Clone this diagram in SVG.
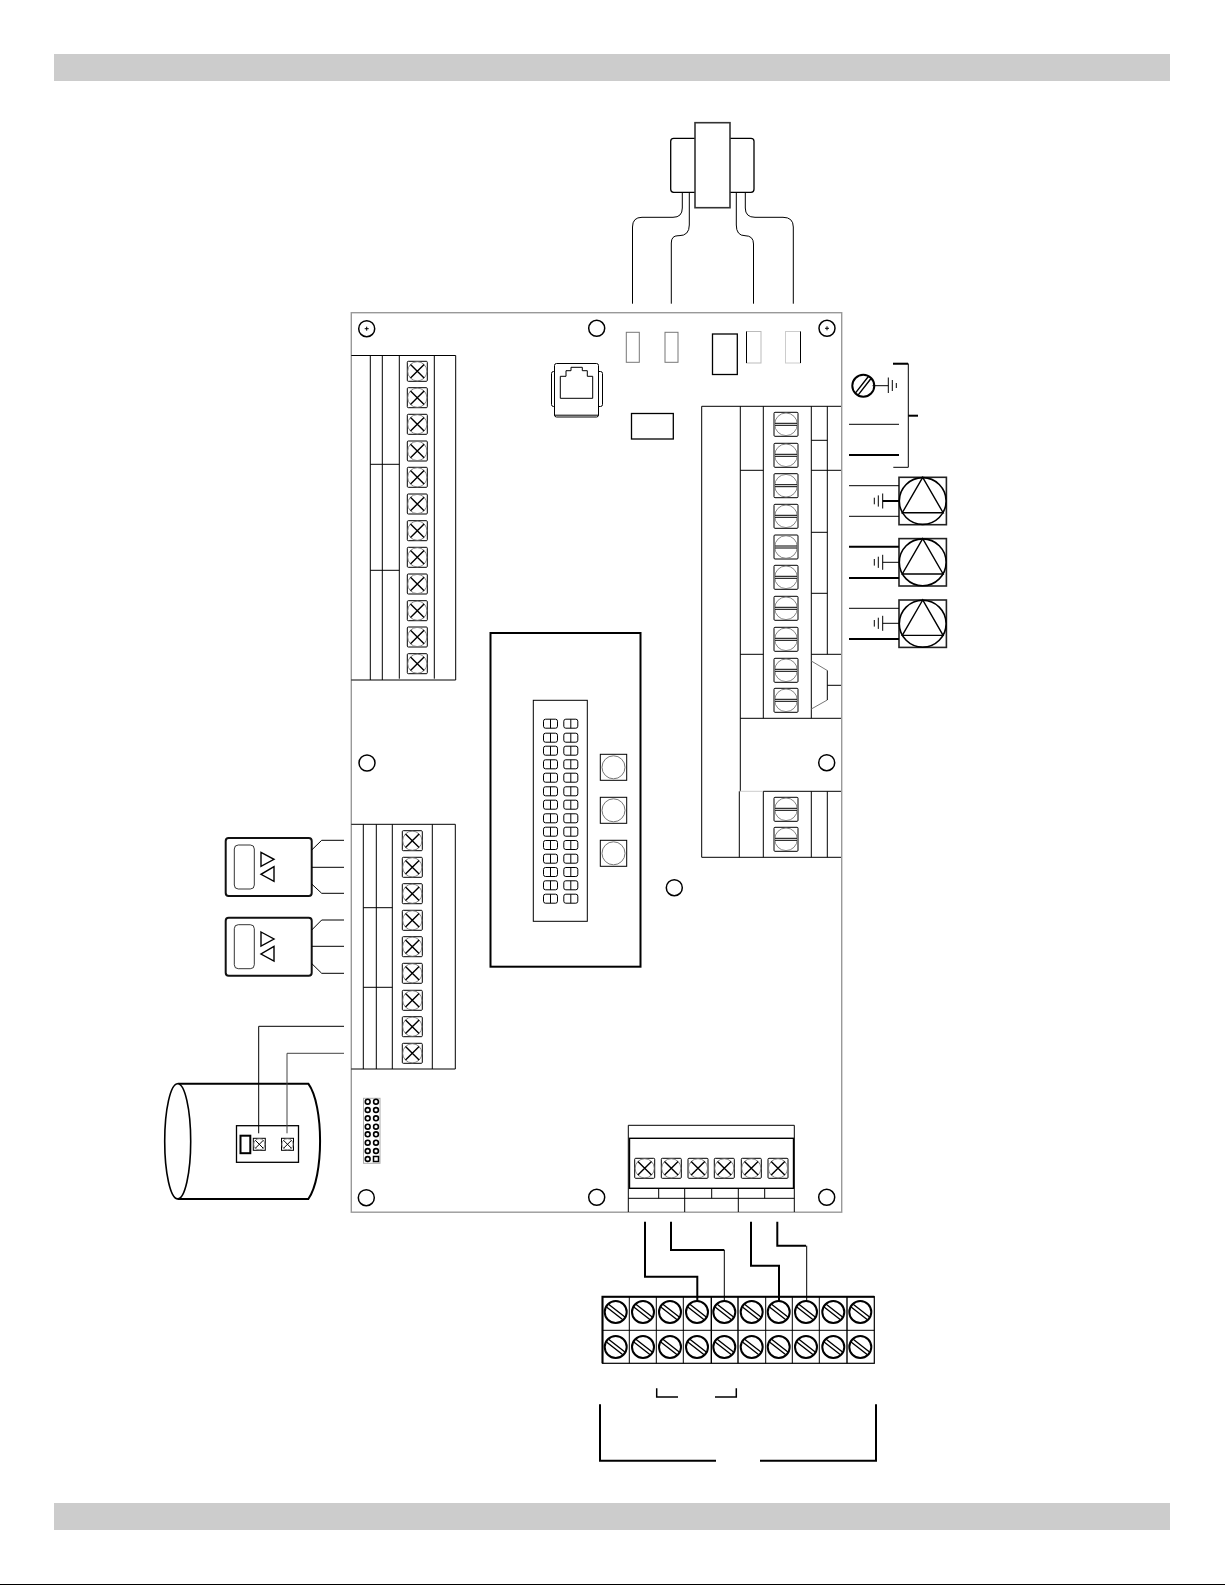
<svg xmlns="http://www.w3.org/2000/svg" width="1225" height="1585" viewBox="0 0 1225 1585">
<style>
.l{fill:none;stroke:#000;stroke-width:1}
.m{fill:none;stroke:#000;stroke-width:1.4}
.t{fill:none;stroke:#000;stroke-width:2}
.g{fill:none;stroke:#777;stroke-width:1}
.h{fill:none;stroke:#777;stroke-width:.9}
.lg{fill:none;stroke:#ccc;stroke-width:1}
.bar{fill:#ccc}
</style>
<defs>
<g id="xs"><rect x="-10" y="-10" width="20" height="20" rx="1" class="l"/><circle r="9.6" class="h"/><path d="M-6.8-6.8L6.8 6.8M6.8-6.8L-6.8 6.8" class="m"/></g>
<g id="xs2"><rect x="-6" y="-6" width="12" height="12" class="l"/><circle r="5.6" class="h"/><path d="M-4-4L4 4M4-4L-4 4" class="l"/></g>
<g id="fs"><rect x="-12" y="-12" width="24" height="24" rx="1" class="l"/><circle r="11.3" class="h"/><path d="M-11-1H11M-11 1H11" class="l"/></g>
<g id="ss"><circle r="11" class="t"/><path d="M-10.4-1.7H10.4M-10.4 1.7H10.4" class="m" transform="rotate(38)"/></g>
<g id="pin"><rect x="-7" y="-4.5" width="14" height="9" rx="2" class="l"/><path d="M0-4.5V4.5" class="l"/></g>
<g id="hole"><circle r="8" fill="#fff" stroke="#000" stroke-width="1.5"/></g>
<g id="btn"><rect x="-13.2" y="-13" width="26.4" height="26" class="l"/><circle r="11.5" class="g"/></g>
<g id="jp"><circle r="2.4" fill="#fff" stroke="#000" stroke-width="1.6"/></g>
<g id="gnd"><path d="M0-7.5V7.5M-4.4-5.6V5.6M-8.4-3.3V3.3" class="l"/></g>
<g id="pump"><rect x="-23.7" y="-23.7" width="47.4" height="47.4" fill="#fff" stroke="#222" stroke-width="1.6"/><circle r="23.4" fill="#fff" stroke="#000" stroke-width="1.6"/><path d="M0-23.7L-20.4 11.7H20.4Z" class="m"/></g>
<g id="sensor"><rect x="225.7" y="0" width="86" height="58" rx="3" fill="#fff" stroke="#111" stroke-width="2"/><rect x="234.3" y="7" width="20" height="44" rx="4" fill="#fff" stroke="#000" stroke-width=".8"/><path d="M261 14.3L274 21.3L261 28.3ZM274 28.7L261 36.3L274 43.3Z" class="m"/></g>
</defs>

<rect id="header-bar" class="bar" x="54" y="54" width="1116" height="27"/>
<rect id="footer-bar" class="bar" x="54" y="1503" width="1116" height="27"/>
<rect id="page-rule" x="0" y="1584" width="1225" height="1" fill="#000"/>

<g id="board">
<rect x="351.3" y="312.7" width="490.4" height="899.5" fill="#fff" stroke="#999" stroke-width="1.4"/>
<use href="#hole" x="366.7" y="328.7"/><path d="M364.7 328.7h4M366.7 326.7v4" class="l"/>
<use href="#hole" x="596.7" y="328.3"/>
<use href="#hole" x="827" y="328.3"/><path d="M825 328.3h4M827 326.3v4" class="l"/>
<use href="#hole" x="367" y="763"/>
<use href="#hole" x="826.7" y="762.7"/>
<use href="#hole" x="674.3" y="887.7"/>
<use href="#hole" x="366.3" y="1197.7"/>
<use href="#hole" x="596.7" y="1197.3"/>
<use href="#hole" x="826.7" y="1197.3"/>
</g>

<g id="transformer">
<rect x="670.7" y="138.3" width="83.3" height="54" rx="3" fill="#fff" stroke="#000" stroke-width="1.3"/>
<rect x="695" y="122.7" width="35" height="85" fill="#fff" stroke="#333" stroke-width="1.6"/>
</g>

<g id="fuses">
<rect x="626.3" y="332.3" width="13" height="30" fill="#fff" stroke="#777"/>
<rect x="665" y="332.3" width="13" height="30" fill="#fff" stroke="#777"/>
<rect x="712.5" y="334" width="24.8" height="40.5" fill="#fff" stroke="#000" stroke-width="1.3"/>
<rect x="746.5" y="331.5" width="14.5" height="31.5" fill="#fff" stroke="#bbb"/>
<path d="M746.5 331.5V363" class="l"/>
<rect x="785.5" y="331.5" width="15" height="31.5" fill="#fff" stroke="#ccc"/>
<path d="M800.5 331.5V363" class="l"/>
<rect x="631.5" y="413.5" width="41.8" height="25.5" fill="#fff" stroke="#000" stroke-width="1.3"/>
</g>

<g id="rj-jack">
<rect x="551.5" y="371.5" width="51" height="35" rx="2" stroke="#000" fill="#fff"/>
<rect x="554.5" y="363.5" width="44" height="53.5" rx="2" stroke="#000" fill="#fff"/>
<path d="M554.5 415.2H598.5" class="l"/>
<path d="M560.3 398.3V376.3H566V370.7H571V367.3H582.3V370.7H587.3V376.3H592.7V398.3Z" class="l"/>
</g>

<g id="terminal-left-top">
<path d="M351.3 355.5H455.7V680H351.3M370.3 355.5V680M382.3 355.5V680M399.3 355.5V678.7M434.3 355.5V678.7M370.3 464.3H399.3M370.3 570.3H399.3" class="l"/>
<use href="#xs" x="417.3" y="371.3"/><use href="#xs" x="417.3" y="397.7"/><use href="#xs" x="417.3" y="424.3"/><use href="#xs" x="417.3" y="451"/><use href="#xs" x="417.3" y="477.3"/><use href="#xs" x="417.3" y="504"/><use href="#xs" x="417.3" y="530.7"/><use href="#xs" x="417.3" y="557.3"/><use href="#xs" x="417.3" y="584"/><use href="#xs" x="417.3" y="610.7"/><use href="#xs" x="417.3" y="637"/><use href="#xs" x="417.3" y="663.7"/>
</g>

<g id="terminal-left-bottom">
<path d="M351.3 824.3H455.3V1069H351.3M363.3 824.3V1069M376.3 824.3V1069M392.3 824.3V1069M432.3 824.3V1069M363.3 907.7H392.3M363.3 987.3H392.3" class="l"/>
<use href="#xs" x="412.3" y="840.7"/><use href="#xs" x="412.3" y="867.3"/><use href="#xs" x="412.3" y="893.7"/><use href="#xs" x="412.3" y="920.3"/><use href="#xs" x="412.3" y="946.7"/><use href="#xs" x="412.3" y="973.3"/><use href="#xs" x="412.3" y="1000.3"/><use href="#xs" x="412.3" y="1026.7"/><use href="#xs" x="412.3" y="1053.3"/>
</g>

<g id="terminal-right">
<path d="M841 406.3H701.7V857.3H841M740.3 406.3V791.3M739.3 791.3V857.3M763.3 406.3V718.3M763.3 791.3V857.3M811.3 406.3V718.3M811.3 791.3V857.3M827.3 406.3V654.3M827.3 791.3V857.3M740.3 470.3H763.3M811.3 470.3H841M811.3 440.3H827.3M811.3 532.3H827.3M811.3 593.3H827.3M740.3 654.3H763.3M811.3 654.3H841M740.3 718.3H841M763.3 791.3H841M827.3 685.3H841" class="l"/>
<path d="M740 791.3H763" class="lg"/>
<path d="M811.3 661L827.3 670.5M827.3 700L811.3 709" class="g"/>
<path d="M827.3 670.5V700" class="l"/>
<use href="#fs" x="786" y="424.3"/><use href="#fs" x="786" y="455.3"/><use href="#fs" x="786" y="485.7"/><use href="#fs" x="786" y="516.3"/><use href="#fs" x="786" y="547"/><use href="#fs" x="786" y="577.3"/><use href="#fs" x="786" y="608.3"/><use href="#fs" x="786" y="639.3"/><use href="#fs" x="786" y="670.3"/><use href="#fs" x="786" y="700.3"/><use href="#fs" x="786" y="809.3"/><use href="#fs" x="786" y="839.3"/>
</g>

<g id="controller-module">
<rect x="490.5" y="633" width="150" height="333.7" class="t"/>
<rect x="533.3" y="700.3" width="54" height="221" class="l"/>
<use href="#pin" x="550.5" y="723.7"/><use href="#pin" x="570.8" y="723.7"/>
<use href="#pin" x="550.5" y="737.7"/><use href="#pin" x="570.8" y="737.7"/>
<use href="#pin" x="550.5" y="750.7"/><use href="#pin" x="570.8" y="750.7"/>
<use href="#pin" x="550.5" y="764.3"/><use href="#pin" x="570.8" y="764.3"/>
<use href="#pin" x="550.5" y="777.7"/><use href="#pin" x="570.8" y="777.7"/>
<use href="#pin" x="550.5" y="791.3"/><use href="#pin" x="570.8" y="791.3"/>
<use href="#pin" x="550.5" y="804.7"/><use href="#pin" x="570.8" y="804.7"/>
<use href="#pin" x="550.5" y="818.3"/><use href="#pin" x="570.8" y="818.3"/>
<use href="#pin" x="550.5" y="831.7"/><use href="#pin" x="570.8" y="831.7"/>
<use href="#pin" x="550.5" y="845"/><use href="#pin" x="570.8" y="845"/>
<use href="#pin" x="550.5" y="858.7"/><use href="#pin" x="570.8" y="858.7"/>
<use href="#pin" x="550.5" y="872"/><use href="#pin" x="570.8" y="872"/>
<use href="#pin" x="550.5" y="885.3"/><use href="#pin" x="570.8" y="885.3"/>
<use href="#pin" x="550.5" y="898.7"/><use href="#pin" x="570.8" y="898.7"/>
<use href="#btn" x="613.5" y="767.3"/><use href="#btn" x="613.5" y="810.3"/><use href="#btn" x="613.5" y="853.3"/>
</g>

<g id="header-j">
<rect x="363.5" y="1098.3" width="16.5" height="65" fill="#fff" stroke="#aaa"/>
<use href="#jp" x="367.7" y="1101.7"/><use href="#jp" x="376" y="1101.7"/>
<use href="#jp" x="367.7" y="1110"/><use href="#jp" x="376" y="1110"/>
<use href="#jp" x="367.7" y="1118.3"/><use href="#jp" x="376" y="1118.3"/>
<use href="#jp" x="367.7" y="1126.7"/><use href="#jp" x="376" y="1126.7"/>
<use href="#jp" x="367.7" y="1134.3"/><use href="#jp" x="376" y="1134.3"/>
<use href="#jp" x="367.7" y="1142.7"/><use href="#jp" x="376" y="1142.7"/>
<use href="#jp" x="367.7" y="1151"/><use href="#jp" x="376" y="1151"/>
<use href="#jp" x="367.7" y="1159"/>
<rect x="373.5" y="1156.5" width="5" height="5" fill="#fff" stroke="#000" stroke-width="1.5"/>
</g>

<g id="terminal-bottom">
<path d="M628.3 1212V1125.3H794.3V1212M628.3 1198.3H794.3M658.7 1188.3V1198.3M684.7 1188.3V1212M711.7 1188.3V1198.3M738.3 1188.3V1212M764.7 1188.3V1198.3" class="l"/>
<rect x="629.5" y="1138.3" width="164" height="50" class="m"/>
<use href="#xs" x="644.7" y="1168.3"/><use href="#xs" x="671.3" y="1168.3"/><use href="#xs" x="698" y="1168.3"/><use href="#xs" x="724.3" y="1168.3"/><use href="#xs" x="751.3" y="1168.3"/><use href="#xs" x="778" y="1168.3"/>
</g>

<g id="sensor-1" transform="translate(0 838)"><use href="#sensor"/></g>
<g id="sensor-2" transform="translate(0 917.7)"><use href="#sensor"/></g>

<g id="tank">
<path d="M177.7 1083.7H308.3C324 1105 324 1177 308.3 1199H177.7" fill="#fff" stroke="#000" stroke-width="2"/>
<ellipse cx="177.7" cy="1141.3" rx="13" ry="57.6" fill="#fff" stroke="#000" stroke-width="1.6"/>
<rect x="236.5" y="1125.7" width="62" height="36.6" fill="#fff" stroke="#000" stroke-width="1.3"/>
<rect x="240.5" y="1135.7" width="9.8" height="17.5" fill="#fff" stroke="#000" stroke-width="2"/>
<use href="#xs2" x="259.3" y="1144.3"/><use href="#xs2" x="287.5" y="1144.3"/>
</g>

<g id="pump-1"><use href="#pump" x="922.7" y="501"/></g>
<g id="pump-2"><use href="#pump" x="922.7" y="562.3"/></g>
<g id="pump-3"><use href="#pump" x="922.7" y="623.7"/></g>

<g id="ground-screw">
<use href="#ss" x="863.3" y="385.7" transform="rotate(90 863.3 385.7)"/>
<path d="M872.5 385.7H888.3" class="l"/>
<path d="M888.3 377.5V393M892.3 380V391M896.3 383V388" class="l"/>
</g>

<g id="terminal-block">
<rect x="602.5" y="1296.7" width="271.8" height="66.6" fill="#fff" stroke="#000" stroke-width="1.2"/>
<path d="M602.5 1363.3V1296.7H874.3" class="t"/>
<path d="M602.5 1330.3H874.3M629.3 1296.7V1363.3M656.3 1296.7V1363.3M683.3 1296.7V1363.3M765.7 1296.7V1363.3M792.3 1296.7V1363.3M819.3 1296.7V1363.3" class="l"/>
<path d="M711.3 1296.7V1363.3M738 1296.7V1363.3M847 1296.7V1363.3" class="m"/>
<use href="#ss" x="615.7" y="1312"/><use href="#ss" x="643" y="1312"/><use href="#ss" x="670" y="1312"/><use href="#ss" x="697" y="1312"/><use href="#ss" x="724.3" y="1312"/><use href="#ss" x="751.7" y="1312"/><use href="#ss" x="778.7" y="1312"/><use href="#ss" x="806" y="1312"/><use href="#ss" x="833.3" y="1312"/><use href="#ss" x="860.3" y="1312"/>
<use href="#ss" x="615.7" y="1347"/><use href="#ss" x="643" y="1347"/><use href="#ss" x="670" y="1347"/><use href="#ss" x="697" y="1347"/><use href="#ss" x="724.3" y="1347"/><use href="#ss" x="751.7" y="1347"/><use href="#ss" x="778.7" y="1347"/><use href="#ss" x="806" y="1347"/><use href="#ss" x="833.3" y="1347"/><use href="#ss" x="860.3" y="1347"/>
</g>

<g id="connectors">
<path d="M682.3 192.3V208Q682.3 217.3 673 217.3H642Q632.5 217.3 632.5 227V303.7" class="l"/>
<path d="M689.3 192.3V225Q689.3 235.7 679 235.7H678Q671.3 235.7 671.3 243V303.7" class="l"/>
<path d="M736.3 192.3V225Q736.3 235.7 745 235.7Q753.5 235.7 753.5 244V303.7" class="l"/>
<path d="M745.3 192.3V208Q745.3 217.3 755 217.3H783Q793.3 217.3 793.3 227V303.7" class="l"/>
<path d="M893 363.7H908.3V467.3H893.3" class="l"/>
<path d="M893 363.7H908" class="t"/>
<path d="M908.3 415.7H918" class="t"/>
<path d="M849 424.3H899" class="l"/>
<path d="M849 455H899" class="t"/>
<path d="M849 485.7H899M849 516.3H899" class="l"/>
<path d="M849 546.7H899M849 578H899" class="t"/>
<path d="M849 608.3H899" class="l"/>
<path d="M849 639H899" class="t"/>
<path d="M882.7 501H899" class="t"/>
<use href="#gnd" x="882.7" y="501"/>
<path d="M882.7 562.3H899" class="l"/>
<use href="#gnd" x="882.7" y="562.3"/>
<path d="M882.7 623.3H899" class="l"/>
<use href="#gnd" x="882.7" y="623.3"/>
<path d="M311.7 850L321.7 840.3H344M311.7 867.3H344M311.7 884L321.7 893.3H344" class="l"/>
<path d="M311.7 930L321.7 920H344M311.7 946.3H344M311.7 963.5L321.7 973.3H344" class="l"/>
<path d="M344 1026.3H258.7V1133.3" class="l"/>
<path d="M344 1053.3H287V1133.3" fill="none" stroke="#444"/>
<path d="M645 1221.7V1276.7H697.3V1302" class="t"/>
<path d="M671 1221.7V1250H724.3" class="t"/>
<path d="M724.3 1250V1302" class="l"/>
<path d="M751 1221.7V1265.7H779V1302" class="t"/>
<path d="M777.3 1221.7V1245.7H806" class="t"/>
<path d="M806.7 1245.7V1302" class="l"/>
<path d="M656.7 1388.3V1397H678M715 1397H736.3V1388.3" fill="none" stroke="#000" stroke-width="1.5"/>
<path d="M600 1404.3V1460.7H716M760 1460.7H876V1404.3" class="t"/>
</g>
</svg>
